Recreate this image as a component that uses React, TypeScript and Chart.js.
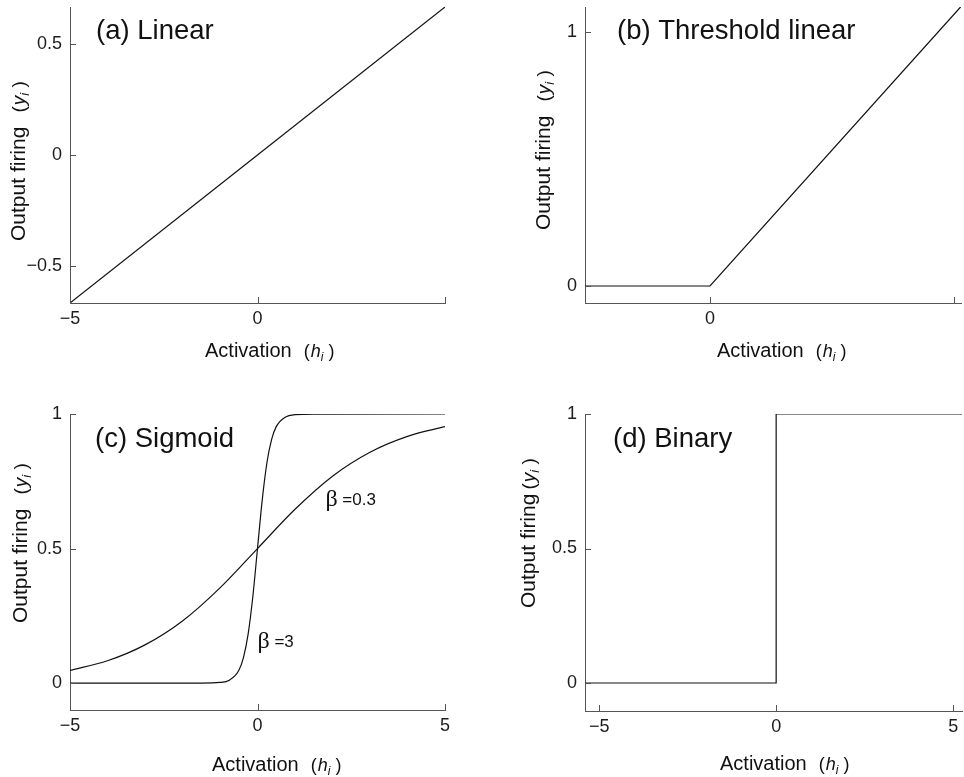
import React, { useEffect, useRef } from 'react';
import { Chart, registerables } from 'chart.js';

Chart.register(...registerables);

// ---------- data ----------
const linearH = [-5, 0, 5];
const linearY = [-0.665, 0, 0.665];

const thresholdH = [-2.56, 0, 5.14];
const thresholdY = [0, 0, 1.1];

const sigmoidSteepH = [-5, -1.5, -1, -0.75, -0.5, -0.375, -0.25, -0.125, 0, 0.125, 0.25, 0.375, 0.5, 0.75, 1, 1.5, 5];
const sigmoidSteepY = [0, 0.0001, 0.0025, 0.011, 0.047, 0.095, 0.182, 0.321, 0.5, 0.679, 0.818, 0.905, 0.953, 0.989, 0.9975, 0.9999, 1];

const sigmoidShallowH = [-5, -4, -3, -2, -1, 0, 1, 2, 3, 4, 5];
const sigmoidShallowY = [0.047, 0.083, 0.142, 0.231, 0.354, 0.5, 0.646, 0.769, 0.858, 0.917, 0.953];

const binaryH = [-5.4, 0, 0, 5.25];
const binaryY = [0, 0, 1, 1];

// ---------- ticks ----------
const linearXTicks = [-5, 0, 5];
const linearXTickLabels = ['\u22125', '0', ''];
const linearYTicks = [-0.5, 0, 0.5];
const linearYTickLabels = ['\u22120.5', '0', '0.5'];

const thresholdXTicks = [0, 5];
const thresholdXTickLabels = ['0', ''];
const thresholdYTicks = [0, 1];
const thresholdYTickLabels = ['0', '1'];

const sigmoidXTicks = [-5, 0, 5];
const sigmoidXTickLabels = ['\u22125', '0', '5'];
const sigmoidYTicks = [0, 0.5, 1];
const sigmoidYTickLabels = ['0', '0.5', '1'];

const binaryXTicks = [-5, 0, 5];
const binaryXTickLabels = ['\u22125', '0', '5'];
const binaryYTicks = [0, 0.5, 1];
const binaryYTickLabels = ['0', '0.5', '1'];

// ---------- text ----------
const panelTitles = ['(a) Linear', '(b) Threshold linear', '(c) Sigmoid', '(d) Binary'];
const xAxisWord = 'Activation';
const xAxisVar = 'h';
const yAxisWord = 'Output firing';
const yAxisVar = 'y';
const subIndex = 'i';
const betaSymbol = '\u03B2';
const betaValues = [' =0.3', ' =3'];
const betaAnchorH = [1.81, 0.0];
const betaAnchorY = [0.658, 0.13];

// ---------- styles ----------
const SANS = '"Liberation Sans", Arial, Helvetica, sans-serif';
const SERIF = '"Liberation Serif", "Times New Roman", serif';
const AXIS = '#555';
const INK = '#111';
const TEXT = '#1c1c1c';

type Seg = { t: string; size: number; italic?: boolean; dy?: number; gap?: number; family?: string };

function drawSegs(ctx: CanvasRenderingContext2D, x: number, y: number, segs: Seg[]) {
  let cx = x;
  for (const s of segs) {
    cx += s.gap || 0;
    ctx.font = `${s.italic ? 'italic ' : ''}${s.size}px ${s.family || SANS}`;
    ctx.fillText(s.t, cx, y + (s.dy || 0));
    cx += ctx.measureText(s.t).width;
  }
}

function varSegs(v: string, size: number): Seg[] {
  return [
    { t: '(', size },
    { t: v, size, italic: true, gap: 1 },
    { t: subIndex, size: Math.round(size * 0.68), italic: true, dy: 4 },
    { t: ' )', size },
  ];
}

type PanelCfg = {
  left: number; top: number; w: number; h: number;
  area: { l: number; r: number; t: number; b: number };
  xMin: number; xMax: number; yMin: number; yMax: number;
  xTicks: number[]; xLabels: string[]; yTicks: number[]; yLabels: string[];
  series: { h: number[]; y: number[]; smooth?: boolean }[];
  title: string; titleDx: number; titleDy: number;
  xtDx: number; xtDy: number;
  ytDx: number; ytDy: number; ytGap: number;
  beta?: boolean;
};

const panels: PanelCfg[] = [
  {
    left: 0, top: 0, w: 482, h: 390, area: { l: 70, r: 445, t: 7, b: 303 },
    xMin: -5, xMax: 5, yMin: -0.665, yMax: 0.665,
    xTicks: linearXTicks, xLabels: linearXTickLabels, yTicks: linearYTicks, yLabels: linearYTickLabels,
    series: [{ h: linearH, y: linearY }],
    title: panelTitles[0], titleDx: 26, titleDy: 32,
    xtDx: 135, xtDy: 54, ytDx: -45, ytDy: 234, ytGap: 14,
  },
  {
    left: 482, top: 0, w: 482, h: 390, area: { l: 103, r: 479, t: 7, b: 303 },
    xMin: -2.56, xMax: 5.14, yMin: -0.067, yMax: 1.098,
    xTicks: thresholdXTicks, xLabels: thresholdXTickLabels, yTicks: thresholdYTicks, yLabels: thresholdYTickLabels,
    series: [{ h: thresholdH, y: thresholdY }],
    title: panelTitles[1], titleDx: 32, titleDy: 32,
    xtDx: 132, xtDy: 54, ytDx: -35, ytDy: 223, ytGap: 14,
  },
  {
    left: 0, top: 390, w: 482, h: 387, area: { l: 70, r: 445, t: 24, b: 320 },
    xMin: -5, xMax: 5, yMin: -0.1, yMax: 1,
    xTicks: sigmoidXTicks, xLabels: sigmoidXTickLabels, yTicks: sigmoidYTicks, yLabels: sigmoidYTickLabels,
    series: [{ h: sigmoidSteepH, y: sigmoidSteepY, smooth: true }, { h: sigmoidShallowH, y: sigmoidShallowY, smooth: true }],
    title: panelTitles[2], titleDx: 25, titleDy: 33,
    xtDx: 142, xtDy: 61, ytDx: -43, ytDy: 209, ytGap: 14,
    beta: true,
  },
  {
    left: 482, top: 390, w: 482, h: 387, area: { l: 103, r: 480, t: 24, b: 321 },
    xMin: -5.4, xMax: 5.25, yMin: -0.104, yMax: 1,
    xTicks: binaryXTicks, xLabels: binaryXTickLabels, yTicks: binaryYTicks, yLabels: binaryYTickLabels,
    series: [{ h: binaryH, y: binaryY }],
    title: panelTitles[3], titleDx: 28, titleDy: 33,
    xtDx: 135, xtDy: 59, ytDx: -50, ytDy: 194, ytGap: 4,
  },
];

function makeDecor(cfg: PanelCfg) {
  return {
    id: 'decor',
    afterDraw(chart: any) {
      const ctx: CanvasRenderingContext2D = chart.ctx;
      const ca = chart.chartArea;
      const xs = chart.scales.x;
      const ys = chart.scales.y;
      ctx.save();
      // inward tick marks
      ctx.strokeStyle = AXIS;
      ctx.lineWidth = 1;
      ctx.beginPath();
      for (const v of cfg.xTicks) {
        const px = Math.round(xs.getPixelForValue(v)) + 0.5;
        ctx.moveTo(px, ca.bottom);
        ctx.lineTo(px, ca.bottom - 6);
      }
      for (const v of cfg.yTicks) {
        const py = Math.round(ys.getPixelForValue(v)) + 0.5;
        ctx.moveTo(ca.left, py);
        ctx.lineTo(ca.left + 6, py);
      }
      ctx.stroke();

      ctx.fillStyle = INK;
      ctx.textAlign = 'left';
      ctx.textBaseline = 'alphabetic';
      // panel title
      ctx.font = `27.5px ${SANS}`;
      ctx.fillText(cfg.title, ca.left + cfg.titleDx, ca.top + cfg.titleDy);

      // x axis title
      drawSegs(ctx, ca.left + cfg.xtDx, ca.bottom + cfg.xtDy, [
        { t: xAxisWord, size: 20 },
        ...varSegs(xAxisVar, 18).map((s, i) => (i === 0 ? { ...s, gap: 12 } : s)),
      ]);

      // y axis title
      ctx.translate(ca.left + cfg.ytDx, ca.top + cfg.ytDy);
      ctx.rotate(-Math.PI / 2);
      drawSegs(ctx, 0, 0, [
        { t: yAxisWord, size: 21 },
        ...varSegs(yAxisVar, 19).map((s, i) => (i === 0 ? { ...s, gap: cfg.ytGap } : s)),
      ]);
      ctx.setTransform(1, 0, 0, 1, 0, 0);

      // beta labels
      if (cfg.beta) {
        for (let i = 0; i < betaValues.length; i++) {
          const px = xs.getPixelForValue(betaAnchorH[i]);
          const py = ys.getPixelForValue(betaAnchorY[i]);
          drawSegs(ctx, px, py, [
            { t: betaSymbol, size: 24, family: SERIF },
            { t: betaValues[i], size: 17, dy: -1 },
          ]);
        }
      }
      ctx.restore();
    },
  };
}

function buildConfig(cfg: PanelCfg): any {
  const tickFont = { family: SANS, size: 18 };
  return {
    type: 'line',
    data: {
      datasets: cfg.series.map((s) => ({
        data: s.h.map((x, i) => ({ x, y: s.y[i] })),
        borderColor: INK,
        borderWidth: 1.2,
        pointRadius: 0,
        fill: false,
        tension: 0,
        cubicInterpolationMode: s.smooth ? 'monotone' : 'default',
      })),
    },
    options: {
      animation: false,
      responsive: false,
      devicePixelRatio: 1,
      events: [],
      layout: { padding: { left: 0, top: cfg.area.t, right: cfg.w - cfg.area.r, bottom: 0 } },
      plugins: { legend: { display: false }, tooltip: { enabled: false }, title: { display: false } },
      scales: {
        x: {
          type: 'linear',
          position: 'bottom',
          min: cfg.xMin,
          max: cfg.xMax,
          grid: { display: false, drawTicks: false },
          border: { display: true, color: AXIS, width: 1 },
          ticks: {
            font: tickFont,
            color: TEXT,
            padding: 5,
            autoSkip: false,
            maxRotation: 0,
            callback: (_v: any, i: number) => cfg.xLabels[i],
          },
          afterBuildTicks: (s: any) => {
            s.ticks = cfg.xTicks.map((v) => ({ value: v }));
          },
          afterFit: (s: any) => {
            s.height = cfg.h - cfg.area.b;
            s.paddingLeft = 0; s.paddingRight = 0; s.paddingTop = 0; s.paddingBottom = 0;
          },
        },
        y: {
          type: 'linear',
          position: 'left',
          min: cfg.yMin,
          max: cfg.yMax,
          grid: { display: false, drawTicks: false },
          border: { display: true, color: AXIS, width: 1 },
          ticks: {
            font: tickFont,
            color: TEXT,
            padding: 8,
            autoSkip: false,
            callback: (_v: any, i: number) => cfg.yLabels[i],
          },
          afterBuildTicks: (s: any) => {
            s.ticks = cfg.yTicks.map((v) => ({ value: v }));
          },
          afterFit: (s: any) => {
            s.width = cfg.area.l;
            s.paddingLeft = 0; s.paddingRight = 0; s.paddingTop = 0; s.paddingBottom = 0;
          },
        },
      },
    },
    plugins: [makeDecor(cfg)],
  };
}

function Panel({ cfg }: { cfg: PanelCfg }) {
  const ref = useRef<HTMLCanvasElement>(null);
  useEffect(() => {
    const chart = new Chart(ref.current as HTMLCanvasElement, buildConfig(cfg));
    return () => chart.destroy();
  }, [cfg]);
  return (
    <canvas
      ref={ref}
      width={cfg.w}
      height={cfg.h}
      style={{ position: 'absolute', left: cfg.left, top: cfg.top, width: cfg.w, height: cfg.h }}
    />
  );
}

export default function App() {
  return (
    <div style={{ position: 'absolute', left: 0, top: 0, width: 964, height: 777, background: '#fff' }}>
      {panels.map((p, i) => (
        <Panel key={i} cfg={p} />
      ))}
    </div>
  );
}
